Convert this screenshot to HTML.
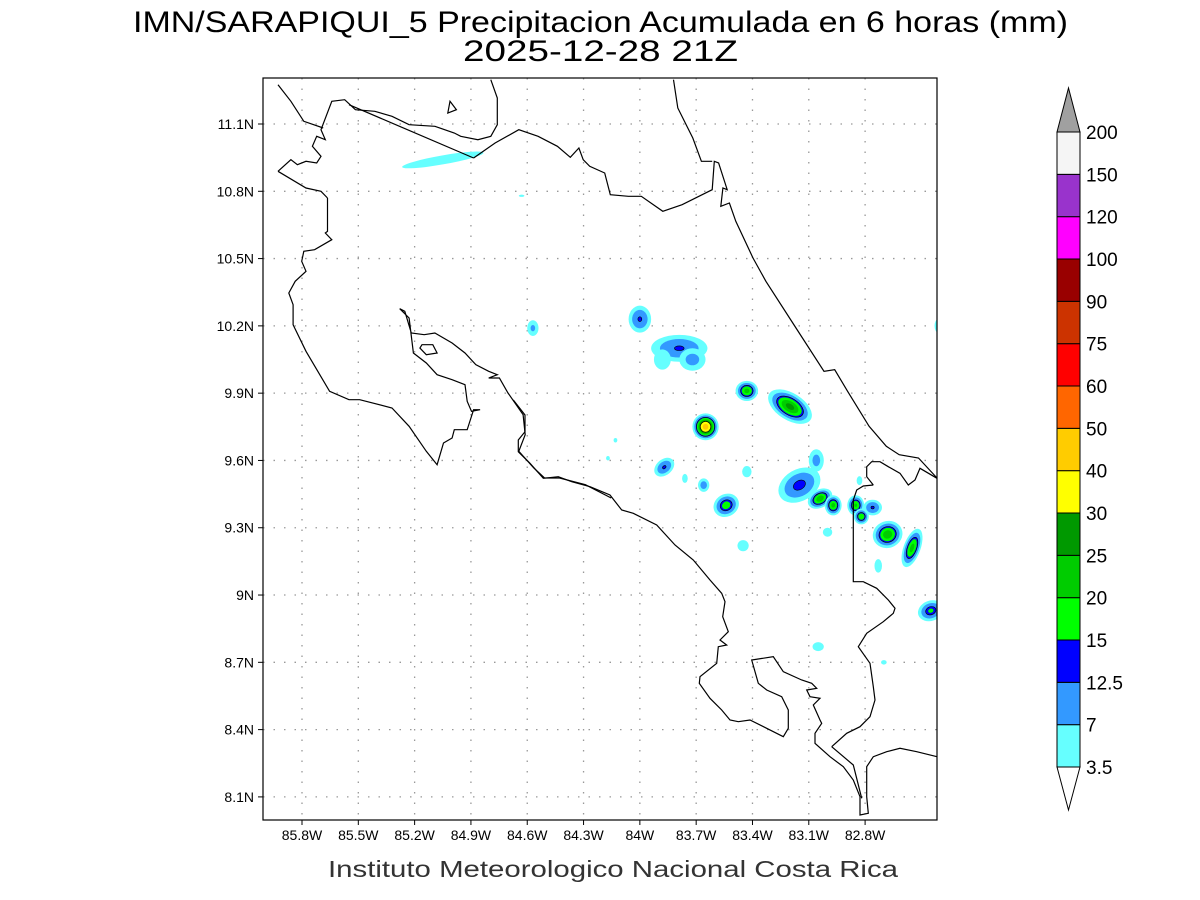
<!DOCTYPE html>
<html><head><meta charset="utf-8"><style>
body{margin:0;background:#fff;width:1200px;height:900px;overflow:hidden}
svg{display:block;font-family:"Liberation Sans",sans-serif}
</style></head><body>
<svg id="s" width="1200" height="900" viewBox="0 0 1200 900">
<text x="133" y="32" textLength="935" lengthAdjust="spacingAndGlyphs" font-size="30">IMN/SARAPIQUI_5 Precipitacion Acumulada en 6 horas (mm)</text>
<text x="463" y="61" textLength="275" lengthAdjust="spacingAndGlyphs" font-size="30">2025-12-28 21Z</text>
<text x="328" y="877" textLength="570" lengthAdjust="spacingAndGlyphs" font-size="23" fill="#333">Instituto Meteorologico Nacional Costa Rica</text>
<g id="grid"></g>
<g id="precip"></g>
<g id="coast" fill="none" stroke="#000" stroke-width="1.2"></g>
<rect x="263" y="78" width="674" height="742" fill="none" stroke="#000" stroke-width="1.2"/>
<g id="axes"></g>
<g id="cbar"></g>
</svg>
<script>
const lonTicks=[-85.8,-85.5,-85.2,-84.9,-84.6,-84.3,-84.0,-83.7,-83.4,-83.1,-82.8];
const lonLabels=["85.8W","85.5W","85.2W","84.9W","84.6W","84.3W","84W","83.7W","83.4W","83.1W","82.8W"];
const latTicks=[11.1,10.8,10.5,10.2,9.9,9.6,9.3,9.0,8.7,8.4,8.1];
const latLabels=["11.1N","10.8N","10.5N","10.2N","9.9N","9.6N","9.3N","9N","8.7N","8.4N","8.1N"];
const levels=[3.5,7,12.5,15,20,25,30,40,50,60,75,90,100,120,150,200];
const levelColors=["#66FFFF","#3399FF","#0000FF","#00FF00","#00CC00","#009900","#FFFF00","#FFCC00","#FF6600","#FF0000","#CC3300","#990000","#FF00FF","#9933CC","#F5F5F5"];
const blobLon=[-85.05,-84.0,-83.79,-83.88,-83.72,-84.57,-83.43,-83.2,-83.65,-83.87,-83.66,-83.54,-83.45,-83.15,-83.04,-82.97,-82.85,-82.82,-82.76,-82.68,-82.55,-82.45,-83.06,-83.05,-82.7,-83.0,-82.73,-83.43,-84.17,-84.13,-82.41,-83.76,-82.83,-84.63];
const blobLat=[10.94,10.23,10.10,10.05,10.05,10.19,9.91,9.84,9.75,9.57,9.49,9.40,9.22,9.49,9.43,9.40,9.40,9.35,9.39,9.27,9.21,8.93,9.60,8.77,8.70,9.28,9.13,9.55,9.61,9.69,10.2,9.52,9.51,10.78];
const blobRx=[0.22,0.06,0.15,0.045,0.07,0.03,0.06,0.13,0.07,0.06,0.03,0.07,0.03,0.12,0.07,0.045,0.045,0.04,0.05,0.08,0.045,0.07,0.04,0.03,0.015,0.025,0.02,0.025,0.01,0.01,0.02,0.015,0.015,0.015];
const blobRy=[0.02,0.06,0.06,0.045,0.05,0.035,0.045,0.06,0.06,0.035,0.03,0.05,0.025,0.07,0.04,0.045,0.045,0.035,0.035,0.06,0.09,0.045,0.05,0.02,0.01,0.02,0.03,0.025,0.01,0.01,0.03,0.02,0.02,0.005];
const blobAng=[-10,0,0,0,0,0,0,32,0,-40,0,-30,0,-30,-30,0,0,0,0,-20,20,-20,0,0,0,0,0,0,0,0,0,0,0,0];
const blobMax=[5,13,13,6,9,8,22,27,45,13,10,18,5,14,24,22,21,20,13,24,22,16,9,5,4,6,5,5,4,4,4,4,5,4];

const NS="http://www.w3.org/2000/svg";
const X=lon=>302+(lon+85.8)*187.7;
const Y=lat=>124+(11.1-lat)*224.3;
const PX=187.7, PY=224.3;
function mk(tag,attrs,parent){const e=document.createElementNS(NS,tag);for(const k in attrs)e.setAttribute(k,attrs[k]);parent.appendChild(e);return e;}
const grid=document.getElementById('grid'),axes=document.getElementById('axes');
lonTicks.forEach((t,i)=>{const x=X(t);
 const l=mk('line',{x1:x,y1:78,x2:x,y2:820,stroke:'#999','stroke-dasharray':'1.5,9','stroke-width':1.3},grid);
 
 
 const tk=mk('line',{x1:x,y1:820,x2:x,y2:825,stroke:'#000'},axes);
 
 
 const tx=mk('text',{x:x,y:840,'text-anchor':'middle','font-size':14},axes);tx.textContent=lonLabels[i];
 
 });
latTicks.forEach((t,i)=>{const y=Y(t);
 const l=mk('line',{x1:263,y1:y,x2:937,y2:y,stroke:'#999','stroke-dasharray':'1.5,9','stroke-width':1.3},grid);
 
 
 const tk=mk('line',{x1:258,y1:y,x2:263,y2:y,stroke:'#000'},axes);
 
 
 const tx=mk('text',{x:254,y:y+5,'text-anchor':'end','font-size':14},axes);tx.textContent=latLabels[i];
 
 });

const pg=document.getElementById('precip');
const clip=mk('clipPath',{id:'fc'},mk('defs',{},document.getElementById('s')));
mk('rect',{x:263,y:78,width:674,height:742},clip);
pg.setAttribute('clip-path','url(#fc)');
blobLon.forEach((lon,i)=>{
 const mx=blobMax[i],cx=X(lon),cy=Y(blobLat[i]);
 const s=1/Math.sqrt(Math.log(mx/3.5));
 for(let k=0;k<levels.length-1;k++){const L=levels[k];if(L>=mx)break;
  const f=s*Math.sqrt(Math.log(mx/L));
  const e=mk('ellipse',{cx:cx,cy:cy,rx:Math.max(blobRx[i]*PX*f,1),ry:Math.max(blobRy[i]*PY*f,1),fill:levelColors[k],transform:`rotate(${blobAng[i]} ${cx} ${cy})`},pg);
  if(k==2||k==6){e.setAttribute('stroke','#000');e.setAttribute('stroke-width','0.6');}
  
  }
});

const cg=document.getElementById('coast');
function poly(pts,fx,fy,ox,oy,name,closed){const d=[];for(let i=0;i<pts.length;i+=2)d.push((ox+pts[i]*fx).toFixed(1)+','+(oy+pts[i+1]*fy).toFixed(1));
 const p=mk(closed?'polygon':'polyline',{points:d.join(' ')},cg);
 
 }
const a=674/1568,b=1/3;
poly([35,20,65,70,95,130,140,150],a,b,263,78,'nicaragua-coast');
poly([150,360,150,460,145,465,160,485,120,515,95,520,90,550,100,580,75,610,60,645,70,680,70,740,100,820,155,940,200,965,225,965,300,990,340,1045,380,1120,405,1160,420,1095,440,1080,445,1055,475,1055,490,995,505,995,485,1000,475,970,470,920,440,905,405,890,380,855,350,825,340,720,318,692,330,700,345,765,375,770,400,765,440,795,470,825,495,860,525,880,545,890,525,900,550,900,570,945,605,1010,610,1070,595,1120,630,1170,655,1200,690,1200,750,1220,810,1260],a,b,263,78,'pacific-coast-north');
poly([35,280,65,245,80,260,100,250,125,255,135,235,115,205,125,175,145,185,135,155,160,70,190,65,215,95,260,100,300,115,340,140,400,145,445,165,460,175,500,185,530,175,545,140,545,60,530,5],a,b,263,78,'lake-nicaragua-shore');
poly([35,280,100,330,135,340,150,360],a,b,263,78,'pacific-coast-nw');
poly([200,80,490,240],a,b,263,78,'nicaragua-border');
poly([490,240,540,195,595,155,640,175,685,205,715,238,735,210,745,245,760,265,795,285,808,350,850,355,880,355,930,400,975,380,1045,335,1050,250,1060,255,1080,335,1070,330,1065,385,1085,375,1100,430,1140,540,1170,610,1240,750,1305,880,1330,875,1360,940,1410,1045,1450,1105,1480,1130,1525,1140,1568,1200],a,b,263,78,'caribbean-coast');
poly([955,5,965,90,1000,180,1020,250,1045,250],a,b,263,78,'nicaragua-caribbean');
poly([370,800,395,800,405,825,380,830,365,810],a,b,263,78,'chira-island',true);
poly([435,70,450,95,430,105],a,b,263,78,'lake-island',true);
poly([40,0,75,45,75,95,55,120,55,155,90,190,130,235,175,230,215,245,270,260,330,285,365,330,400,340,470,375,525,435,580,480,630,540,665,580,675,605,668,650,685,695,660,720,680,735,655,740,650,790,600,830,598,850,630,895,665,930,690,960,715,965,750,960,800,985,850,1010,865,985,865,930,845,890,800,870,775,850,755,780,820,770,850,815,905,840,935,850,950,865,920,870,930,890,960,895,940,915,960,960,965,970,945,1000,945,1030,990,1070,1030,1100,1060,1140,1080,1190,1080,1245,1105,1240,1100,1190,1100,1100,1120,1070,1160,1055,1200,1045,1250,1055,1311,1070],b,b,500,400,'pacific-coast-south');
poly([995,1040,1040,1000,1080,980,1110,950,1125,900,1120,860,1110,790,1075,740,1100,700,1150,665,1180,640,1185,625,1165,600,1130,565,1090,545,1060,545,1060,300,1070,270,1090,258,1120,255],b,b,500,400,'panama-border');
poly([995,1040,1060,1095,1085,1195],b,b,500,400,'burica-coast');
poly([1120,255,1100,230,1100,200,1115,185,1140,185,1165,200,1200,220,1225,255,1245,240,1260,205,1311,235],b,b,500,400,'panama-caribbean');

const cb=document.getElementById('cbar');
const cbTop=132,cbBot=767,nLev=levelColors.length,segH=(cbBot-cbTop)/nLev;
for(let k=0;k<nLev;k++){const y=cbBot-(k+1)*segH;
 const r=mk('rect',{x:1057,y:y,width:23,height:segH,fill:levelColors[k],stroke:'#000','stroke-width':1},cb);
 
 }
const tt=mk('polygon',{points:'1057,132 1080,132 1068.5,88',fill:'#A0A0A0',stroke:'#000'},cb);


const bt=mk('polygon',{points:'1057,767 1080,767 1068.5,810',fill:'#fff',stroke:'#000'},cb);


levels.forEach((L,k)=>{const t=mk('text',{x:1086,y:cbBot-k*segH+7,'font-size':19},cb);t.textContent=String(L);
 
 });
</script>
</body></html>
